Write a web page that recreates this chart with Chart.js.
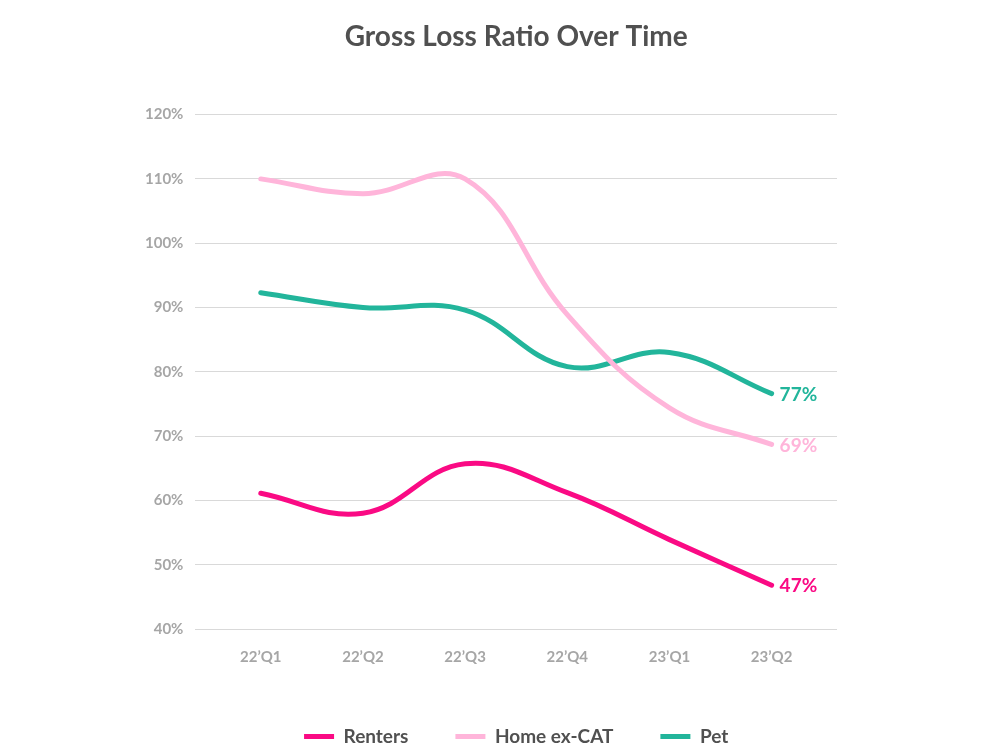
<!DOCTYPE html>
<html>
<head>
<meta charset="utf-8">
<title>Gross Loss Ratio Over Time</title>
<script src="https://cdn.jsdelivr.net/npm/chart.js"></script>
<style>
  html, body { margin: 0; padding: 0; background: #fff; }
  #wrap { width: 997px; height: 756px; }
</style>
</head>
<body>
<div id="wrap"><canvas id="lossChart" width="997" height="756"></canvas></div>
<script>
// quarters on the x axis
const quarters = ["22’Q1", "22’Q2", "22’Q3", "22’Q4", "23’Q1", "23’Q2"];

// gross loss ratio, in percent
const renters = [61.1, 58.0, 65.7, 61.2, 53.9, 46.8];
const homeExCat = [110.0, 107.7, 110.0, 88.9, 74.4, 68.7];
const pet = [92.3, 90.0, 89.6, 80.8, 83.0, 76.6];

const yTicks = [40, 50, 60, 70, 80, 90, 100, 110, 120];

const seriesNames = ["Renters", "Home ex-CAT", "Pet"];
const seriesColors = ["#fa0a84", "#ffb5da", "#22b59b"];

const toPoints = vals => vals.map((v, i) => ({ x: i, y: v }));

// write the last value at the end of each line
const endLabels = {
    id: 'endLabels',
    afterDatasetsDraw(chart) {
        const { ctx } = chart;
        ctx.save();
        ctx.font = "bold 19px Lato";
        ctx.textBaseline = 'middle';
        ctx.textAlign = 'left';
        chart.data.datasets.forEach((ds, i) => {
            const meta = chart.getDatasetMeta(i);
            const last = meta.data[meta.data.length - 1];
            const val = ds.data[ds.data.length - 1].y;
            ctx.fillStyle = ds.borderColor;
            ctx.fillText(Math.round(val) + '%', last.x + 8, last.y + 1);
        });
        ctx.restore();
    }
};

const ctx = document.getElementById('lossChart');
new Chart(ctx, {
    type: 'line',
    data: {
        datasets: [renters, homeExCat, pet].map((vals, i) => ({
            label: seriesNames[i],
            data: toPoints(vals),
            borderColor: seriesColors[i],
            backgroundColor: seriesColors[i],
            borderWidth: 5,
            borderCapStyle: 'round',
            borderJoinStyle: 'round',
            tension: 0.4,
            pointRadius: 0,
            pointHoverRadius: 0,
            fill: false
        }))
    },
    options: {
        responsive: false,
        animation: false,
        layout: { padding: { left: 133, right: 160, top: 20, bottom: 0 } },
        plugins: {
            title: {
                display: true,
                fullSize: false,
                text: 'Gross Loss Ratio Over Time',
                color: '#505050',
                font: { family: 'Lato', size: 28, weight: 'bold' },
                padding: { top: 0, bottom: 61 }
            },
            legend: {
                position: 'bottom',
                fullSize: false,
                labels: {
                    usePointStyle: true,
                    pointStyle: 'line',
                    pointStyleWidth: 30,
                    boxHeight: 19,
                    padding: 47,
                    color: '#505050',
                    font: { family: 'Lato', size: 19, weight: 'bold' }
                }
            },
            tooltip: { enabled: false }
        },
        scales: {
            x: {
                type: 'linear',
                min: -0.64,
                max: quarters.length - 1 + 0.64,
                afterBuildTicks: axis => { axis.ticks = quarters.map((q, i) => ({ value: i })); },
                afterFit: axis => { axis.height = 51; },
                grid: { display: false, drawTicks: false },
                border: { display: false },
                ticks: {
                    autoSkip: false,
                    maxRotation: 0,
                    padding: 19,
                    color: '#a6a6a6',
                    font: { family: 'Lato', size: 15, weight: 'bold' },
                    callback: v => quarters[v]
                }
            },
            y: {
                min: yTicks[0],
                max: yTicks[yTicks.length - 1],
                afterBuildTicks: axis => { axis.ticks = yTicks.map(v => ({ value: v })); },
                grid: { color: '#d9d9d9', lineWidth: 1, drawTicks: false },
                border: { display: false },
                ticks: {
                    padding: 12,
                    color: '#a6a6a6',
                    font: { family: 'Lato', size: 15, weight: 'bold' },
                    callback: v => v + '%'
                }
            }
        }
    },
    plugins: [endLabels]
});
</script>
</body>
</html>
